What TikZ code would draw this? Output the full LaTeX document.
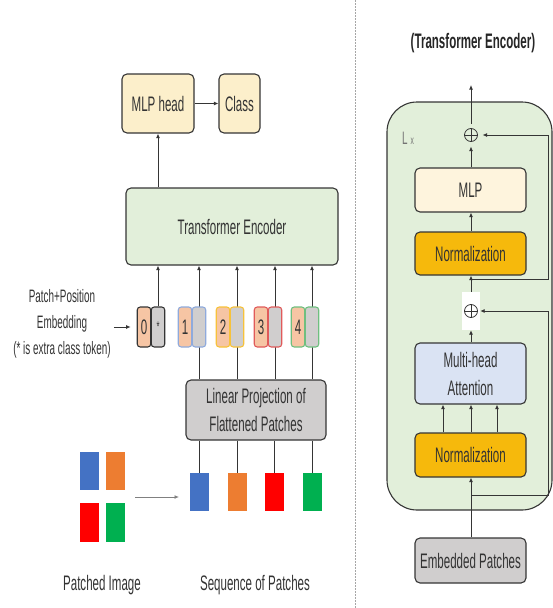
\documentclass[tikz,border=0pt]{standalone}
\usepackage{fontspec}
\setmainfont{Liberation Sans}[FakeStretch=0.55]
\usetikzlibrary{arrows.meta}
\pgfdeclarelayer{background}
\pgfsetlayers{background,main}
\definecolor{edge}{HTML}{353535}
\definecolor{txt}{HTML}{333333}
\definecolor{ybox}{HTML}{FCEFCB}
\definecolor{gbox}{HTML}{E2EFDA}
\definecolor{graybox}{HTML}{D0CECE}
\definecolor{gold}{HTML}{F6B90C}
\definecolor{cream}{HTML}{FEF4DD}
\definecolor{lblue}{HTML}{DAE3F3}
\definecolor{peach}{HTML}{F6C5A4}
\definecolor{bA}{HTML}{8FAADC}
\definecolor{bB}{HTML}{F7C23A}
\definecolor{bC}{HTML}{E05A5A}
\definecolor{bD}{HTML}{6FBF7F}
\definecolor{pblue}{HTML}{4472C4}
\definecolor{porange}{HTML}{ED7D31}
\definecolor{pred}{HTML}{FF0000}
\definecolor{pgreen}{HTML}{00B050}
\tikzset{
  box/.style={draw=edge, rounded corners=5pt, line width=1.1pt, text=txt,
    font=\fontsize{21}{28}\selectfont, align=center, inner sep=0pt},
  tokn/.style={rounded corners=3pt, line width=1.1pt, fill=peach, text=txt,
    minimum width=13.5pt, minimum height=40pt, inner sep=0pt,
    font=\fontsize{21}{21}\selectfont},
  tokg/.style={tokn, fill=graybox},
  patch/.style={minimum width=19pt, minimum height=38pt, inner sep=0pt},
  conn/.style={draw=edge, line width=1pt, -{Latex[length=4.5pt,width=4pt]}},
  plain/.style={draw=edge, line width=1pt},
  lbl/.style={text=txt, align=center, inner sep=0pt, font=\fontsize{21}{26}\selectfont},
  plus/.style={circle, draw=edge, line width=0.8pt, minimum size=13pt, inner sep=0pt,
    path picture={\draw[edge, line width=0.8pt]
      (path picture bounding box.north) -- (path picture bounding box.south)
      (path picture bounding box.west) -- (path picture bounding box.east);}},
  sep/.style={draw=gray!70, line width=0.8pt, dash pattern=on 1.5pt off 1.5pt}
}
\begin{document}
\begin{tikzpicture}[x=1pt,y=-1pt]
\useasboundingbox (0,0) rectangle (553,608);
\coordinate (septop) at (355,0);
\coordinate (sepbot) at (355,608);
\draw[sep] (septop) -- (sepbot);

% ---------------- left panel ----------------
\node[box, fill=ybox, minimum width=72pt, minimum height=59pt] (mlphead) at (158,103.5) {MLP head};
\node[box, fill=ybox, minimum width=41pt, minimum height=59pt] (class) at (239.5,103.5) {Class};
\node[box, fill=gbox, minimum width=212pt, minimum height=77pt] (enc) at (232,226.5) {Transformer Encoder};
\draw[conn] (mlphead) -- (class);
\draw[conn] (enc.north -| mlphead) -- (mlphead.south);

% tokens
\node[tokn, draw=edge] (n0) at (144,327) {0};
\node[tokg, draw=edge] (g0) at (158,327) {\fontsize{14}{14}\selectfont *};
\node[tokn, draw=bA] (n1) at (185,327) {1};
\node[tokg, draw=bA] (g1) at (199,327) {};
\node[tokn, draw=bB] (n2) at (223,327) {2};
\node[tokg, draw=bB] (g2) at (237,327) {};
\node[tokn, draw=bC] (n3) at (261,327) {3};
\node[tokg, draw=bC] (g3) at (275,327) {};
\node[tokn, draw=bD] (n4) at (298,327) {4};
\node[tokg, draw=bD] (g4) at (312,327) {};

\node[box, fill=graybox, minimum width=140pt, minimum height=60pt] (lin) at (256,410)
  {Linear Projection of\\Flattened Patches};

\begin{pgfonlayer}{background}
\draw[conn] (lin.north -| g1) -- (enc.south -| g1);
\draw[conn] (lin.north -| g2) -- (enc.south -| g2);
\draw[conn] (lin.north -| g3) -- (enc.south -| g3);
\draw[conn] (lin.north -| g4) -- (enc.south -| g4);
\end{pgfonlayer}
\draw[conn] (g0.north) -- (enc.south -| g0);

\node[lbl, font=\fontsize{18}{26}\selectfont] (embl) at (62,324)
  {Patch+Position\\Embedding\\(* is extra class token)};
\draw[conn] ([xshift=3pt]embl.east |- n0.west) -- ([xshift=-6pt]n0.west);

% sequence of patches
\node[patch, fill=pblue] (s1) at (199.5,492) {};
\node[patch, fill=porange] (s2) at (237,492) {};
\node[patch, fill=pred] (s3) at (274,492) {};
\node[patch, fill=pgreen] (s4) at (312,492) {};
\draw[plain] (lin.south -| s1) -- (s1.north);
\draw[plain] (lin.south -| s2) -- (s2.north);
\draw[plain] (lin.south -| s3) -- (s3.north);
\draw[plain] (lin.south -| s4) -- (s4.north);

% patched image
\node[patch, fill=pblue] (i1) at (89.5,471) {};
\node[patch, fill=porange] (i2) at (115,471) {};
\node[patch, fill=pred, minimum height=39pt] (i3) at (89.5,522.5) {};
\node[patch, fill=pgreen, minimum height=39pt] (i4) at (115,522.5) {};
\coordinate (pa) at (135,497);
\coordinate (pb) at (179,497);
\draw[conn, draw=gray] (pa) -- (pb);

\node[lbl] (lpi) at (102,585) {Patched Image};
\node[lbl] (lsp) at (255,585) {Sequence of Patches};

% ---------------- right panel ----------------
\node[lbl, font=\bfseries\fontsize{21}{24}\selectfont, text=black!85] (title) at (473,43) {(Transformer Encoder)};
\node[draw=edge, fill=gbox, line width=1.1pt, rounded corners=30pt,
  minimum width=165pt, minimum height=408pt] (outer) at (469.5,306) {};
\node[text=gray!90!black, inner sep=0pt, anchor=west] (lx) at (402,138)
  {\fontsize{18}{18}\selectfont L\,{\fontsize{12}{12}\selectfont x}};

\node[plus, outer sep=5pt] (p1) at (471,135) {};
\node[box, fill=cream, minimum width=111pt, minimum height=44pt] (mlp) at (470.5,190) {MLP};
\node[box, fill=gold, minimum width=111pt, minimum height=43pt] (norm1) at (470.5,253.5) {Normalization};
\node[fill=white, minimum width=18pt, minimum height=38pt, inner sep=0pt] (p2bg) at (471,311) {};
\node[plus] (p2) at (471,311) {};
\node[box, fill=lblue, minimum width=111pt, minimum height=61pt] (attn) at (470.5,373.5) {Multi-head\\Attention};
\node[box, fill=gold, minimum width=111pt, minimum height=44pt] (norm2) at (470.5,455) {Normalization};
\node[box, fill=graybox, minimum width=111pt, minimum height=45pt] (emb) at (470.5,560.5) {Embedded Patches};

\coordinate (outtop) at (471,85);
\coordinate (sx) at (548,0);
\coordinate (br1) at (471,279);
\coordinate (br2) at (471,495);

\draw[conn] (emb.north -| p2) -- (norm2.south -| p2);
\draw[conn] (norm2.north -| 443,0) -- (attn.south -| 443,0);
\draw[conn] (norm2.north -| p2) -- (attn.south -| p2);
\draw[conn] (norm2.north -| 497,0) -- (attn.south -| 497,0);
\draw[conn] (attn.north -| p2) -- (p2bg.south);
\draw[conn] (p2bg.north) -- (norm1.south -| p2);
\draw[conn] (norm1.north -| p2) -- (mlp.south -| p2);
\draw[conn] (mlp.north -| p1) -- (p1.south);
\draw[conn] (p1.north) -- (outtop);
\draw[conn] (br2) -- (br2 -| sx) |- (p2bg.east);
\draw[conn] (br1) -- (br1 -| sx) |- (p1.east);
\end{tikzpicture}
\end{document}
